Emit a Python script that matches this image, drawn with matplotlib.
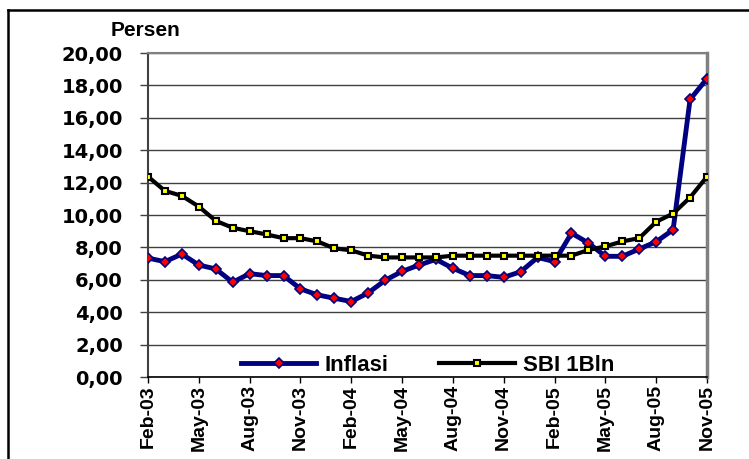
import numpy as np
import matplotlib
matplotlib.use("Agg")
import matplotlib.pyplot as plt
import matplotlib.lines as lines

# data (monthly, Feb-03 .. Nov-05)
bulan = ["Feb-03", "Mar-03", "Apr-03", "May-03", "Jun-03", "Jul-03", "Aug-03", "Sep-03",
         "Oct-03", "Nov-03", "Dec-03", "Jan-04", "Feb-04", "Mar-04", "Apr-04", "May-04",
         "Jun-04", "Jul-04", "Aug-04", "Sep-04", "Oct-04", "Nov-04", "Dec-04", "Jan-05",
         "Feb-05", "Mar-05", "Apr-05", "May-05", "Jun-05", "Jul-05", "Aug-05", "Sep-05",
         "Oct-05", "Nov-05"]
inflasi = [7.34, 7.12, 7.59, 6.91, 6.67, 5.85, 6.38, 6.26, 6.26, 5.44, 5.07, 4.86,
           4.66, 5.19, 5.97, 6.52, 6.91, 7.26, 6.71, 6.26, 6.26, 6.15, 6.50, 7.38,
           7.12, 8.88, 8.27, 7.45, 7.45, 7.90, 8.35, 9.09, 17.13, 18.42]
sbi = [12.37, 11.49, 11.18, 10.52, 9.64, 9.21, 9.00, 8.80, 8.57, 8.57, 8.37, 7.94,
       7.82, 7.49, 7.38, 7.38, 7.38, 7.38, 7.49, 7.49, 7.49, 7.49, 7.49, 7.49,
       7.49, 7.49, 7.84, 8.06, 8.37, 8.57, 9.58, 10.09, 11.08, 12.37]
yticks = np.arange(0, 21, 2)

x = np.arange(len(bulan))

fig = plt.figure(figsize=(7.49, 4.59), dpi=100)
ax = fig.add_axes([148/749, 1 - 377/459, (707 - 148)/749, (377 - 53)/459])

ax.plot(x, inflasi, color="#000080", lw=3.5, marker="D", markersize=5.5,
        markerfacecolor="red", markeredgecolor="#000080", markeredgewidth=1.2,
        label="Inflasi", zorder=3)
ax.plot(x, sbi, color="black", lw=3, marker="s", markersize=5,
        markerfacecolor="yellow", markeredgecolor="black", markeredgewidth=1.5,
        label="SBI 1Bln", zorder=4)

ax.set_xlim(0, len(bulan) - 1)
ax.set_ylim(0, 20)
ax.set_yticks(yticks)
ax.set_yticklabels(["{:.2f}".format(v).replace(".", ",") for v in yticks],
                   fontfamily="DejaVu Sans", fontweight="heavy", fontsize=14)
ax.set_xticks(x[::3])
ax.set_xticklabels(bulan[::3], rotation=90, fontfamily="Liberation Sans",
                   fontweight="bold", fontsize=14)
ax.tick_params(axis="y", direction="out", length=6, width=1, pad=12, color="#404040")
ax.tick_params(axis="x", direction="out", length=4, width=1, pad=2)

ax.yaxis.grid(True, color="#404040", lw=1)
ax.set_axisbelow(True)
ax.spines["top"].set_color("#808080")
ax.spines["top"].set_linewidth(1.5)
ax.spines["right"].set_color("#808080")
ax.spines["right"].set_linewidth(2.5)
ax.spines["left"].set_color("#404040")
ax.spines["left"].set_linewidth(1.5)
ax.spines["bottom"].set_linewidth(1.2)

ax.legend(loc="center left", bbox_to_anchor=(0.146, 0.035), ncol=2, frameon=False,
          borderpad=0, handlelength=3.4, handletextpad=0.35, columnspacing=2.3,
          numpoints=1, prop={"family": "Liberation Sans", "weight": "bold", "size": 16})

fig.text(145/749, 1 - 30/459, "Persen", ha="center", va="center",
         fontfamily="Liberation Sans", fontweight="bold", fontsize=15)

# border lines (top and left) of the cropped frame
fig.add_artist(lines.Line2D([8/749, 1.0], [1 - 10/459, 1 - 10/459], color="black", lw=1.8))
fig.add_artist(lines.Line2D([8/749, 8/749], [0.0, 1 - 10/459], color="black", lw=1.8))

fig.savefig("out.png", dpi=100)
